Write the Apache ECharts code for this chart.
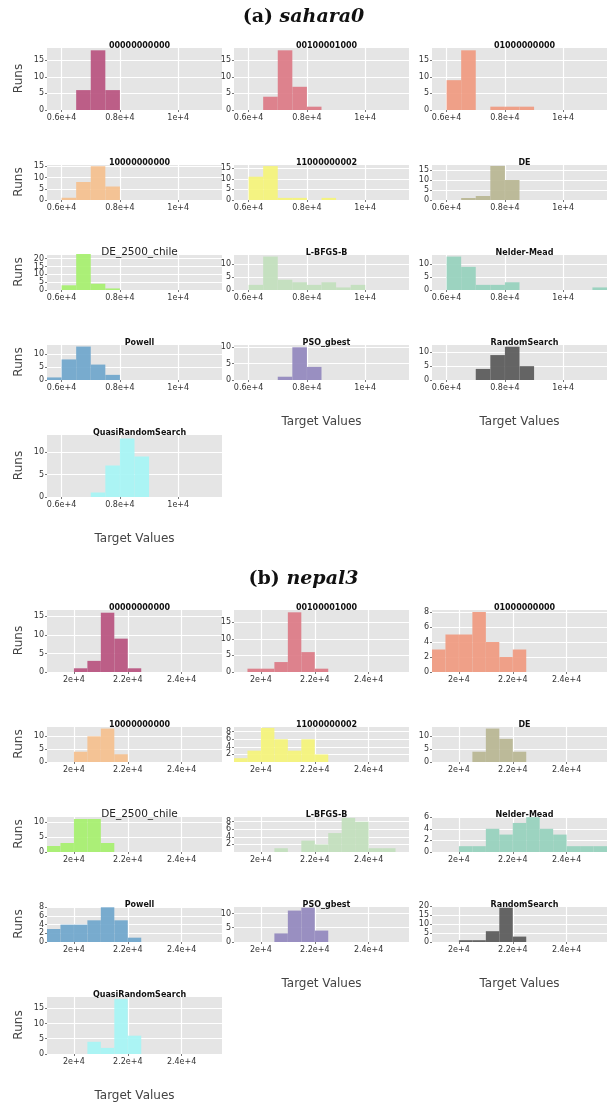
<!DOCTYPE html>
<html>
<head>
<meta charset="utf-8">
<script src="https://cdn.jsdelivr.net/npm/echarts@6/dist/echarts.min.js"></script>
<style>body{margin:0;background:#fff}#main{width:607px;height:1103px}</style>
</head>
<body>
<div id="main"></div>
<script>
var names = ['00000000000', '00100001000', '01000000000', '10000000000', '11000000002', 'DE',
  'DE_2500_chile', 'L-BFGS-B', 'Nelder-Mead', 'Powell', 'PSO_gbest', 'RandomSearch', 'QuasiRandomSearch']
var colors = ['#b8527f', '#dc7a85', '#f09a80', '#f5c08e', '#f5f47a', '#b8b693',
  '#a6f06e', '#c2e0bd', '#96d1bd', '#6fa6cc', '#9288be', '#595959', '#a6f5f5']

// bins are 500 wide; [start, count]
var saharaBins = [
  [[6500, 6], [7000, 18], [7500, 6]],
  [[6500, 4], [7000, 18], [7500, 7], [8000, 1]],
  [[6000, 9], [6500, 18], [7500, 1], [8000, 1], [8500, 1]],
  [[6000, 1], [6500, 8], [7000, 15], [7500, 6]],
  [[6000, 11], [6500, 16], [7000, 1], [7500, 1], [8500, 1]],
  [[6500, 1], [7000, 2], [7500, 17], [8000, 10]],
  [[6000, 3], [6500, 23], [7000, 4], [7500, 1]],
  [[6000, 2], [6500, 13], [7000, 4], [7500, 3], [8000, 2], [8500, 3], [9000, 1], [9500, 2]],
  [[6000, 13], [6500, 9], [7000, 2], [7500, 2], [8000, 3], [11000, 1]],
  [[5500, 1], [6000, 8], [6500, 13], [7000, 6], [7500, 2]],
  [[7000, 1], [7500, 10], [8000, 4]],
  [[7000, 4], [7500, 9], [8000, 12], [8500, 5]],
  [[7000, 1], [7500, 7], [8000, 13], [8500, 9]]
]
var saharaYMax = [19, 19, 19, 16, 17, 18, 23, 14, 14, 14, 11, 13, 14]
var saharaYStep = [5, 5, 5, 5, 5, 5, 5, 5, 5, 5, 5, 5, 5]
var saharaTicks = [6000, 8000, 10000]

var nepalBins = [
  [[20000, 1], [20500, 3], [21000, 16], [21500, 9], [22000, 1]],
  [[19500, 1], [20000, 1], [20500, 3], [21000, 18], [21500, 6], [22000, 1]],
  [[19000, 3], [19500, 5], [20000, 5], [20500, 8], [21000, 4], [21500, 2], [22000, 3]],
  [[20000, 4], [20500, 10], [21000, 13], [21500, 3]],
  [[19000, 1], [19500, 3], [20000, 9], [20500, 6], [21000, 3], [21500, 6], [22000, 2]],
  [[20500, 4], [21000, 13], [21500, 9], [22000, 4]],
  [[19000, 2], [19500, 3], [20000, 11], [20500, 11], [21000, 3]],
  [[20500, 1], [21500, 3], [22000, 2], [22500, 5], [23000, 9], [23500, 8], [24000, 1], [24500, 1]],
  [[20000, 1], [20500, 1], [21000, 4], [21500, 3], [22000, 5], [22500, 6], [23000, 4], [23500, 3], [24000, 1], [24500, 1], [25000, 1]],
  [[19000, 3], [19500, 4], [20000, 4], [20500, 5], [21000, 8], [21500, 5], [22000, 1]],
  [[20500, 3], [21000, 11], [21500, 12], [22000, 4]],
  [[20000, 1], [20500, 1], [21000, 6], [21500, 19], [22000, 3]],
  [[20500, 4], [21000, 2], [21500, 18], [22000, 6]]
]
var nepalYMax = [17, 19, 8.4, 14, 9.5, 14, 12, 9.5, 6.2, 8.3, 12.6, 20, 19]
var nepalYStep = [5, 5, 2, 5, 2, 5, 5, 2, 2, 2, 5, 5, 5]
var nepalTicks = [20000, 22000, 24000]

var binWidth = 500
var colLeft = [47, 234, 432]
var colWidth = 175

var sections = [
  { name: 'sahara0', label: '(a) ', titleTop: 3, bins: saharaBins, yMax: saharaYMax, yStep: saharaYStep,
    ticks: saharaTicks, xMin: 5500, xMax: 11500,
    rows: [[47, 63], [164, 36], [254, 36], [344, 36], [434, 63]] },
  { name: 'nepal3', label: '(b) ', titleTop: 565, bins: nepalBins, yMax: nepalYMax, yStep: nepalYStep,
    ticks: nepalTicks, xMin: 19000, xMax: 25500,
    rows: [[609, 63], [726, 36], [816, 36], [906, 36], [996, 63]] }
]

function fmt (v) {
  return (v / 10000) + 'e+4'
}

var grids = [], xAxes = [], yAxes = [], series = [], titles = []
var k = 0
sections.forEach(function (s) {
  titles.push({
    text: '{a|' + s.label + '}{b|' + s.name + '}',
    left: 'center', top: s.titleTop,
    textStyle: { rich: {
      a: { fontFamily: 'DejaVu Serif', fontWeight: 'bold', fontSize: 19, color: '#111' },
      b: { fontFamily: 'DejaVu Serif', fontWeight: 'bold', fontStyle: 'italic', fontSize: 19, color: '#111' }
    } }
  })
  names.forEach(function (nm, i) {
    var row = Math.floor(i / 3), col = i % 3
    var r = s.rows[row]
    var top = r[0], h = r[1]
    var lastInCol = (i === 12) || (i === 10) || (i === 11)
    grids.push({ left: colLeft[col], top: top, width: colWidth, height: h,
      show: true, backgroundColor: '#e5e5e5', borderWidth: 0 })
    titles.push({
      text: nm, left: colLeft[col] + colWidth / 2, top: top - (nm === 'DE_2500_chile' ? 12 : 10), textAlign: 'center',
      textStyle: nm === 'DE_2500_chile'
        ? { fontSize: 10.5, fontWeight: 'normal', color: '#222', fontFamily: 'DejaVu Sans' }
        : { fontSize: 8, fontWeight: 'bold', color: '#111', fontFamily: 'DejaVu Sans' }
    })
    xAxes.push({
      type: 'value', gridIndex: k, min: s.xMin, max: s.xMax,
      splitLine: { show: false }, axisLine: { show: false },
      axisTick: { show: true, customValues: s.ticks, length: 2, lineStyle: { color: '#777' } },
      axisLabel: { customValues: s.ticks, formatter: fmt, fontSize: 8, color: '#333', margin: 4, fontFamily: 'DejaVu Sans' },
      name: lastInCol ? 'Target Values' : '',
      nameLocation: 'middle', nameGap: 36,
      nameTextStyle: { fontSize: 12, color: '#444', fontFamily: 'DejaVu Sans' }
    })
    yAxes.push({
      type: 'value', gridIndex: k, min: 0, max: s.yMax[i], interval: s.yStep[i],
      splitLine: { lineStyle: { color: '#fff', width: 1.2 } },
      axisLine: { show: false },
      axisTick: { show: true, length: 2, lineStyle: { color: '#777' } },
      axisLabel: { fontSize: 8, color: '#333', margin: 3, fontFamily: 'DejaVu Sans',
        showMaxLabel: s.yMax[i] % s.yStep[i] === 0 },
      name: col === 0 ? 'Runs' : '',
      nameLocation: 'middle', nameGap: 22,
      nameTextStyle: { fontSize: 12, color: '#444', fontFamily: 'DejaVu Sans' }
    })
    series.push({
      type: 'custom', xAxisIndex: k, yAxisIndex: k, z: 3,
      data: s.bins[i].map(function (b) { return [b[0], b[0] + binWidth, b[1]] }),
      renderItem: function (params, api) {
        var p0 = api.coord([api.value(0), api.value(2)])
        var p1 = api.coord([api.value(1), 0])
        return { type: 'rect', shape: { x: p0[0], y: p0[1], width: p1[0] - p0[0], height: p1[1] - p0[1] },
          style: { fill: colors[i], opacity: 0.92 } }
      },
      encode: { x: [0, 1], y: 2 },
      markLine: { silent: true, symbol: 'none', z: 2, label: { show: false },
        lineStyle: { color: '#fff', type: 'solid', width: 1.2 },
        data: s.ticks.map(function (t) { return { xAxis: t } }) }
    })
    k++
  })
})

var chart = echarts.init(document.getElementById('main'))
chart.setOption({
  animation: false,
  title: titles,
  grid: grids,
  xAxis: xAxes,
  yAxis: yAxes,
  series: series
})
</script>
</body>
</html>
